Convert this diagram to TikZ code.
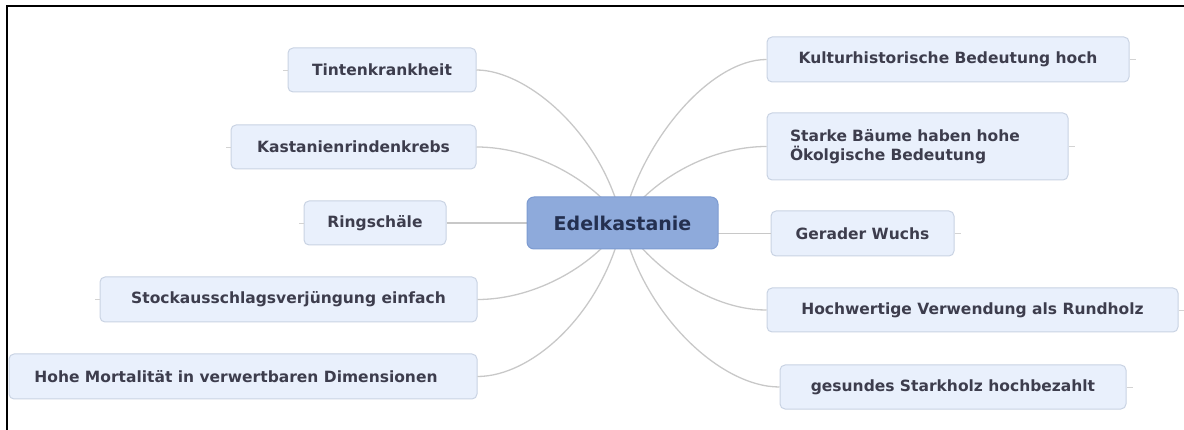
\documentclass[tikz,border=0pt]{standalone}
\usepackage{fontspec}
\setmainfont{DejaVu Sans}
\definecolor{boxfill}{HTML}{E9F0FC}
\definecolor{boxdraw}{HTML}{C9D3E3}
\definecolor{boxtext}{HTML}{3D3D4D}
\definecolor{rootfill}{HTML}{8EAADB}
\definecolor{rootdraw}{HTML}{7D9BD1}
\definecolor{roottext}{HTML}{243050}
\definecolor{linkcol}{HTML}{C8C8C8}
\begin{document}
\begin{tikzpicture}[x=1pt,y=-1pt,
  topic/.style={draw=boxdraw, fill=boxfill, line width=1pt, rounded corners=5pt,
    inner sep=0pt, text=boxtext, font=\fontsize{15.5}{19}\selectfont\bfseries},
  root/.style={draw=rootdraw, fill=rootfill, line width=1pt, rounded corners=7pt,
    inner sep=0pt, text=roottext, font=\fontsize{19}{23}\selectfont\bfseries,
    minimum width=191pt, minimum height=52pt},
  link/.style={draw=linkcol, line width=1.3pt},
  stub/.style={draw=linkcol!80, line width=0.8pt},
  frame/.style={draw=black, line width=2pt}]
\useasboundingbox (0,0) rectangle (1184,430);
\draw[frame] (7,430) -- (7,6) -- (1184,6);

% root
\coordinate (rc) at (622.5,223);

% left topics
\node[topic, minimum width=188pt, minimum height=44pt] (t1) at (382,70) {Tintenkrankheit};
\node[topic, minimum width=245pt, minimum height=44pt] (t2) at (353.5,147) {Kastanienrindenkrebs};
\node[topic, minimum width=142pt, minimum height=44pt] (t3) at (375,223) {Ringschäle};
\node[topic, minimum width=377pt, minimum height=45pt] (t4) at (288.5,299.5) {Stockausschlagsverjüngung einfach};
\node[topic, minimum width=468pt, minimum height=45pt] (t5) at (243,376.5) {\hspace*{-14pt}Hohe Mortalität in verwertbaren Dimensionen};

% right topics
\node[topic, minimum width=362pt, minimum height=45pt] (r1) at (948,59.5) {Kulturhistorische Bedeutung hoch};
\node[topic, text width=255pt, inner xsep=23pt, align=left, minimum height=67pt] (r2) at (917.5,146.5) {Starke Bäume haben hohe\\Ökolgische Bedeutung};
\node[topic, minimum width=183pt, minimum height=45pt] (r3) at (862.5,233.5) {Gerader Wuchs};
\node[topic, minimum width=411pt, minimum height=44pt] (r4) at (972.5,310) {Hochwertige Verwendung als Rundholz};
\node[topic, minimum width=346pt, minimum height=44pt] (r5) at (953,387) {gesundes Starkholz hochbezahlt};

% connectors (behind root)
\draw[link] (t1.east) .. controls +(50,0) and +(-20,-90) .. (rc);
\draw[link] (t2.east) .. controls +(60,0) and +(-25,-40) .. (rc);
\draw[link] (t3.east) -- (rc);
\draw[link] (t4.east) .. controls +(60,0) and +(-25,40) .. (rc);
\draw[link] (t5.east) .. controls +(55,0) and +(-20,90) .. (rc);
\draw[link] (r1.west) .. controls +(-55,0) and +(20,-85) .. (rc);
\draw[link] (r2.west) .. controls +(-60,0) and +(25,-40) .. (rc);
\draw[link] (r3.west) -- (r3.west -| rc);
\draw[link] (r4.west) .. controls +(-60,0) and +(25,40) .. (rc);
\draw[link] (r5.west) .. controls +(-60,0) and +(20,90) .. (rc);

\node[root] (c) at (rc) {Edelkastanie};

% small stubs
\draw[stub] (t1.west) -- ++(-5,0);
\draw[stub] (t2.west) -- ++(-5,0);
\draw[stub] (t3.west) -- ++(-5,0);
\draw[stub] (t4.west) -- ++(-5,0);
\draw[stub] (r1.east) -- ++(6,0);
\draw[stub] (r2.east) -- ++(6,0);
\draw[stub] (r3.east) -- ++(6,0);
\draw[stub] (r4.east) -- ++(6,0);
\draw[stub] (r5.east) -- ++(6,0);
\end{tikzpicture}
\end{document}
